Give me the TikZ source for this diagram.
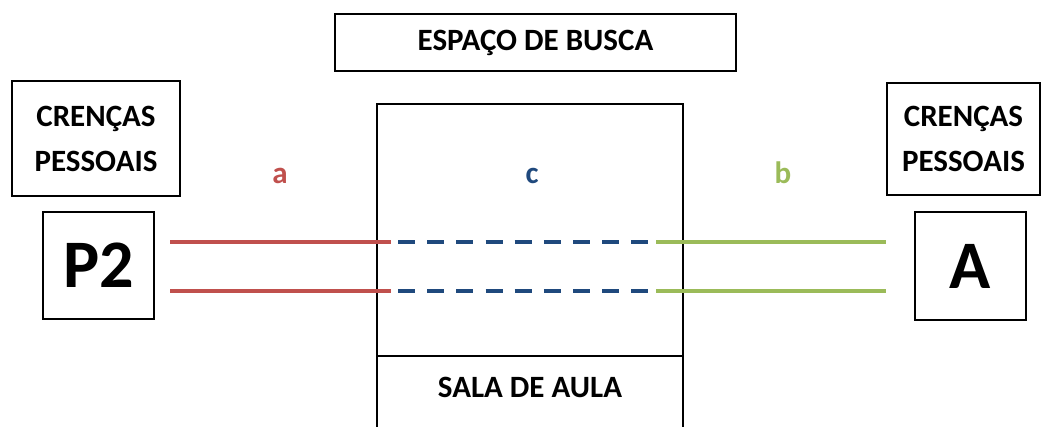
\documentclass[tikz,border=0pt]{standalone}
\usepackage{fontspec}
\setmainfont{Carlito}
\usetikzlibrary{positioning}
\definecolor{linered}{RGB}{192,80,77}
\definecolor{lineblue}{RGB}{31,73,125}
\definecolor{linegreen}{RGB}{155,187,89}

\begin{document}
\begin{tikzpicture}[x=1pt,y=-1pt,
    box/.style={draw,line width=1.4pt,align=center,inner sep=0pt,font=\fontsize{31}{45}\selectfont\bfseries},
    big box/.style={box,font=\fontsize{68}{68}\selectfont\bfseries},
    tag/.style={anchor=base,font=\fontsize{31}{34}\selectfont\bfseries},
    link/.style={line width=4pt}]
      \useasboundingbox (0,0) rectangle (1041,426);

      \node [box, minimum width=401pt, minimum height=57pt] (busca) at (535.5,42.5) {ESPAÇO DE BUSCA};
      \node [box, minimum width=168pt, minimum height=115pt] (crencasL) at (96,138.5) {CRENÇAS\\PESSOAIS};
      \node [box, minimum width=153pt, minimum height=112pt] (crencasR) at (963.5,139) {CRENÇAS\\PESSOAIS};
      \node [big box, minimum width=111pt, minimum height=107pt] (P2) at (98.5,265.5) {P2};
      \node [big box, minimum width=111pt, minimum height=108pt] (A) at (970.5,266) {A};

      % sala de aula (open at the bottom)
      \draw[line width=1.4pt] (377,430) |- (683,104) -- (683,430);
      \draw[line width=1.4pt] (377,356) -- (683,356);
      \node [tag] (sala) at (530,397) {SALA DE AULA};

      \node [tag, linered] (a) at (280,183) {a};
      \node [tag, lineblue] (c) at (532,183) {c};
      \node [tag, linegreen] (b) at (783,183) {b};

      \foreach \y/\n in {242/1, 291/2} {
        \coordinate (r\n) at (170,\y);
        \coordinate (rb\n) at (391,\y);
        \coordinate (bb\n) at (398,\y);
        \coordinate (bg\n) at (648,\y);
        \coordinate (gg\n) at (656,\y);
        \coordinate (g\n) at (886,\y);
        \draw[link, linered] (r\n) -- (rb\n);
        \draw[link, lineblue, dash pattern=on 17pt off 12.17pt] (bb\n) -- (bg\n);
        \draw[link, linegreen] (gg\n) -- (g\n);
      }
\end{tikzpicture}
\end{document}
